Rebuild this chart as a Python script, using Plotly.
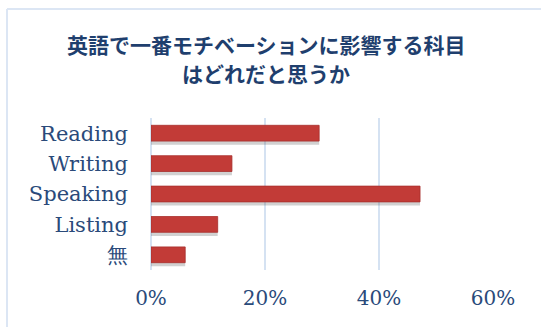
import plotly.graph_objects as go

categories = ["Reading", "Writing", "Speaking", "Listing", "無"]
values = [0.295, 0.142, 0.472, 0.117, 0.060]
tick_vals = [0, 0.2, 0.4, 0.6]
tick_text = ["0%", "20%", "40%", "60%"]
title_lines = ["英語で一番モチベーションに影響する科目", "はどれだと思うか"]

W, H = 541, 327
L, R, T, B = 151, 48, 118, 57
PW, PH = W - L - R, H - T - B
text_color = "#2A4A7A"
grid_color = "#D5E2F2"
bar_w = 0.52


def px(x):
    return (x - L) / PW


def py(y):
    return (H - B - y) / PH


fig = go.Figure()
# soft drop shadow under each bar
fig.add_trace(go.Bar(
    x=values, y=categories, orientation="h",
    marker=dict(color="rgba(90,90,90,0.28)", line=dict(width=0)),
    width=bar_w, offset=-bar_w / 2 + 0.12, hoverinfo="skip",
))
fig.add_trace(go.Bar(
    x=values, y=categories, orientation="h",
    marker=dict(color="#C23B37", line=dict(color="#A8302D", width=0.8)),
    width=bar_w, offset=-bar_w / 2,
))

annotations = []
for i, line in enumerate(title_lines):
    annotations.append(dict(
        text=line, xref="paper", yref="paper", x=px(266), y=py(44 + 29 * i),
        xanchor="center", yanchor="middle", showarrow=False,
        font=dict(family="Noto Sans CJK JP", size=21, color="#1F3F6E", weight="bold"),
    ))

fig.update_layout(
    width=W, height=H,
    margin=dict(l=L, r=R, t=T, b=B),
    paper_bgcolor="white", plot_bgcolor="white",
    showlegend=False, barmode="overlay",
    annotations=annotations,
    xaxis=dict(
        range=[0, 0.6], tickvals=tick_vals, ticktext=tick_text,
        showgrid=True, gridcolor=grid_color, gridwidth=1.5,
        zeroline=True, zerolinecolor=grid_color, zerolinewidth=1.5,
        showline=False, ticks="", ticklabelstandoff=14,
        tickfont=dict(family="DejaVu Serif", size=20, color=text_color),
    ),
    yaxis=dict(
        autorange="reversed", showgrid=False, showline=False, ticks="",
        ticklabelstandoff=22,
        tickfont=dict(family="DejaVu Serif", size=21, color=text_color),
    ),
    shapes=[
        dict(type="line", xref="paper", yref="paper",
             x0=px(7), x1=px(W), y0=py(9), y1=py(9),
             line=dict(color="#DCE6F4", width=2)),
        dict(type="line", xref="paper", yref="paper",
             x0=px(7), x1=px(7), y0=py(9), y1=py(H),
             line=dict(color="#DCE6F4", width=2)),
    ],
)

fig.write_html("out.html")
